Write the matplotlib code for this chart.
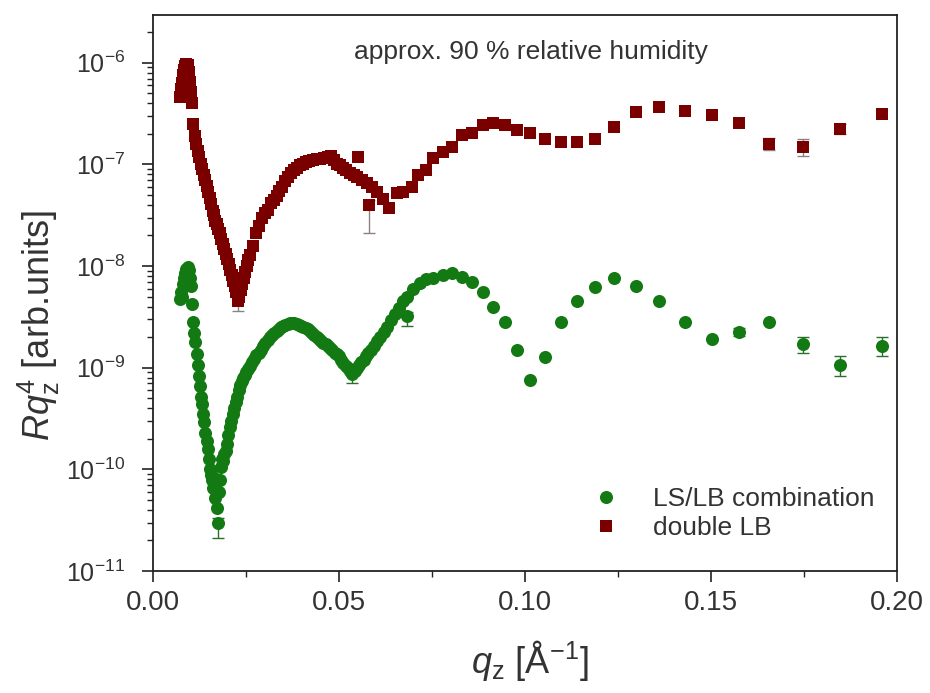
import numpy as np
import matplotlib
matplotlib.use("Agg")
import matplotlib.pyplot as plt
from matplotlib.ticker import LogLocator, MultipleLocator, NullFormatter

# ---- data: Rq^4 vs q_z ----
q_green = [
    0.0072, 0.0075, 0.0078, 0.0081, 0.0084, 0.0087, 0.0090, 0.0093, 0.0096, 0.0099,
    0.0102, 0.0105, 0.0108, 0.0111, 0.0114, 0.0117, 0.0120, 0.0123, 0.0126, 0.0129,
    0.0132, 0.0135, 0.0138, 0.0141, 0.0144, 0.0147, 0.0150, 0.0153, 0.0156, 0.0159,
    0.0162, 0.0165, 0.0168, 0.0171, 0.0174, 0.0177, 0.0180, 0.0183, 0.0186, 0.0189,
    0.0192, 0.0195, 0.0198, 0.0202, 0.0206, 0.0210, 0.0214, 0.0218, 0.0222, 0.0226,
    0.0230, 0.0234, 0.0238, 0.0242, 0.0246, 0.0250, 0.0255, 0.0260, 0.0266, 0.0272,
    0.0278, 0.0284, 0.0290, 0.0296, 0.0302, 0.0308, 0.0314, 0.0320, 0.0326, 0.0332,
    0.0338, 0.0344, 0.0350, 0.0356, 0.0362, 0.0368, 0.0374, 0.0380, 0.0386, 0.0392,
    0.0398, 0.0404, 0.0410, 0.0416, 0.0422, 0.0428, 0.0434, 0.0440, 0.0446, 0.0452,
    0.0458, 0.0464, 0.0470, 0.0476, 0.0482, 0.0488, 0.0494, 0.0500, 0.0506, 0.0512,
    0.0518, 0.0524, 0.0530, 0.0536, 0.0542, 0.0548, 0.0554, 0.0560, 0.0566, 0.0572,
    0.0578, 0.0586, 0.0594, 0.0602, 0.0610, 0.0620, 0.0630, 0.0640, 0.0650, 0.0660,
    0.0672, 0.0683, 0.0684, 0.0700, 0.0718, 0.0735,
    0.0753, 0.0780, 0.0804, 0.0831, 0.0858, 0.0887, 0.0914, 0.0946, 0.0978, 0.1013,
    0.1054, 0.1097, 0.1140, 0.1188, 0.1239, 0.1298, 0.1360, 0.1430, 0.1503, 0.1575,
    0.1656, 0.1747, 0.1847, 0.1960,
]
R_green = [
    4.7e-9, 5.6e-9, 5.0e-9, 6.6e-9, 7.6e-9, 8.6e-9, 9.4e-9, 9.8e-9, 9.2e-9, 7.6e-9,
    6.3e-9, 4.2e-9, 2.8e-9, 2.2e-9, 1.78e-9, 1.35e-9, 1.07e-9, 8.3e-10, 6.6e-10, 5.2e-10,
    4.4e-10, 3.5e-10, 2.9e-10, 2.3e-10, 1.9e-10, 1.58e-10, 1.26e-10, 1.0e-10, 8.7e-11, 7.9e-11,
    6.6e-11, 8.3e-11, 5.2e-11, 4.2e-11, 3.0e-11, 6.0e-11, 7.9e-11, 1.05e-10, 1.26e-10, 1.2e-10,
    1.41e-10, 1.5e-10, 1.78e-10, 2.2e-10, 2.6e-10, 3.0e-10, 3.5e-10, 4.0e-10, 4.6e-10, 5.2e-10,
    6.0e-10, 6.8e-10, 7.4e-10, 7.9e-10, 8.5e-10, 9.1e-10, 9.8e-10, 1.05e-9, 1.15e-9, 1.23e-9,
    1.32e-9, 1.41e-9, 1.51e-9, 1.62e-9, 1.74e-9, 1.86e-9, 2.0e-9, 2.09e-9, 2.19e-9, 2.29e-9,
    2.4e-9, 2.51e-9, 2.57e-9, 2.63e-9, 2.69e-9, 2.75e-9, 2.75e-9, 2.75e-9, 2.69e-9, 2.63e-9,
    2.57e-9, 2.51e-9, 2.45e-9, 2.4e-9, 2.29e-9, 2.19e-9, 2.09e-9, 2.0e-9, 1.9e-9, 1.82e-9,
    1.74e-9, 1.7e-9, 1.62e-9, 1.58e-9, 1.51e-9, 1.41e-9, 1.35e-9, 1.29e-9, 1.2e-9, 1.12e-9,
    1.05e-9, 1.0e-9, 9.3e-10, 8.7e-10, 9.3e-10, 1.0e-9, 1.07e-9, 1.15e-9, 1.2e-9, 1.29e-9,
    1.38e-9, 1.48e-9, 1.62e-9, 1.82e-9, 2.0e-9, 2.24e-9, 2.51e-9, 2.95e-9, 3.4e-9, 3.9e-9,
    4.5e-9, 5.0e-9, 3.2e-9, 5.9e-9, 6.8e-9, 7.4e-9,
    7.6e-9, 8.1e-9, 8.5e-9, 7.8e-9, 6.9e-9, 5.5e-9, 4.0e-9, 2.8e-9, 1.5e-9, 7.6e-10,
    1.28e-9, 2.8e-9, 4.5e-9, 6.2e-9, 7.7e-9, 6.4e-9, 4.5e-9, 2.8e-9, 1.9e-9, 2.25e-9,
    2.8e-9, 1.7e-9, 1.07e-9, 1.64e-9,
]
# error bars (only where visible): q position, lower and upper error
err_q_green = [0.0174, 0.0536, 0.0684, 0.1575, 0.1747, 0.1847, 0.1960]
err_lo_green = [0.9e-11, 1.6e-10, 0.6e-9, 0.2e-9, 0.3e-9, 0.24e-9, 0.35e-9]
err_hi_green = [0.3e-11, 0.5e-10, 0.3e-9, 0.2e-9, 0.3e-9, 0.24e-9, 0.35e-9]

q_red = [
    0.0072, 0.0075, 0.0078, 0.0081, 0.0084, 0.0087, 0.0090, 0.0093, 0.0096, 0.0099,
    0.0101, 0.0104, 0.0108, 0.0112, 0.0116, 0.0120, 0.0124, 0.0128, 0.0132, 0.0136,
    0.0140, 0.0144, 0.0148, 0.0152, 0.0156, 0.0160, 0.0164, 0.0168, 0.0172, 0.0176,
    0.0180, 0.0184, 0.0188, 0.0192, 0.0196, 0.0200, 0.0204, 0.0208, 0.0212, 0.0216,
    0.0220, 0.0224, 0.0228, 0.0232, 0.0236, 0.0240, 0.0244, 0.0248, 0.0252, 0.0256,
    0.0260, 0.0268, 0.0276, 0.0284, 0.0292, 0.0300, 0.0308, 0.0316, 0.0324, 0.0332,
    0.0340, 0.0348, 0.0356, 0.0364, 0.0372, 0.0380, 0.0388, 0.0396, 0.0404, 0.0412,
    0.0420, 0.0430, 0.0440, 0.0450, 0.0460, 0.0470, 0.0478, 0.0486, 0.0495, 0.0503,
    0.0511, 0.0520, 0.0530, 0.0539, 0.0548, 0.0551, 0.0561, 0.0575, 0.0580, 0.0589,
    0.0602, 0.0618, 0.0635, 0.0656, 0.0672, 0.0696, 0.0712, 0.0734,
    0.0753, 0.0780, 0.0804, 0.0831, 0.0858, 0.0887, 0.0914, 0.0946, 0.0978, 0.1013,
    0.1054, 0.1097, 0.1140, 0.1188, 0.1239, 0.1298, 0.1360, 0.1430, 0.1503, 0.1575,
    0.1656, 0.1747, 0.1847, 0.1960,
]
R_red = [
    4.6e-7, 5.5e-7, 6.3e-7, 7.5e-7, 8.5e-7, 9.3e-7, 9.8e-7, 9.6e-7, 8.2e-7, 6.4e-7,
    5.2e-7, 4.0e-7, 2.5e-7, 1.9e-7, 1.58e-7, 1.35e-7, 1.17e-7, 1.02e-7, 9.1e-8, 7.9e-8,
    7.1e-8, 6.2e-8, 5.4e-8, 4.7e-8, 4.1e-8, 3.5e-8, 3.2e-8, 2.8e-8, 2.6e-8, 2.3e-8,
    2.1e-8, 1.86e-8, 1.66e-8, 1.48e-8, 1.32e-8, 1.17e-8, 1.05e-8, 9.1e-9, 8.1e-9, 7.2e-9,
    6.3e-9, 5.5e-9, 4.5e-9, 5.0e-9, 5.8e-9, 6.6e-9, 7.6e-9, 8.7e-9, 1.0e-8, 1.15e-8,
    1.29e-8, 1.58e-8, 2.1e-8, 2.5e-8, 2.95e-8, 3.3e-8, 3.6e-8, 4.2e-8, 4.5e-8, 4.9e-8,
    5.5e-8, 6.0e-8, 6.8e-8, 7.6e-8, 8.3e-8, 8.9e-8, 9.3e-8, 9.8e-8, 1.02e-7, 1.05e-7,
    1.07e-7, 1.1e-7, 1.12e-7, 1.12e-7, 1.15e-7, 1.17e-7, 1.2e-7, 1.1e-7, 1.02e-7, 9.8e-8,
    9.3e-8, 8.8e-8, 8.3e-8, 7.9e-8, 7.6e-8, 1.17e-7, 7.1e-8, 6.6e-8, 4.0e-8, 6.0e-8,
    5.4e-8, 4.6e-8, 3.7e-8, 5.2e-8, 5.4e-8, 6.0e-8, 7.9e-8, 8.9e-8,
    1.15e-7, 1.33e-7, 1.49e-7, 1.95e-7, 2.05e-7, 2.45e-7, 2.56e-7, 2.45e-7, 2.19e-7, 2.05e-7,
    1.79e-7, 1.67e-7, 1.67e-7, 1.79e-7, 2.34e-7, 3.30e-7, 3.69e-7, 3.37e-7, 3.08e-7, 2.56e-7,
    1.6e-7, 1.49e-7, 2.24e-7, 3.15e-7,
]
err_q_red = [0.0228, 0.0580, 0.1656, 0.1747, 0.1847]
err_lo_red = [0.9e-9, 1.9e-8, 2.2e-8, 2.7e-8, 2.5e-8]
err_hi_red = [0.3e-9, 0.5e-8, 2.2e-8, 3.0e-8, 2.5e-8]

labels = ["LS/LB combination", "double LB"]
note = "approx. 90 % relative humidity"

# ---- styling ----
plt.rcParams["font.family"] = ["Liberation Sans", "DejaVu Sans"]
plt.rcParams["mathtext.fontset"] = "custom"
plt.rcParams["mathtext.rm"] = "Liberation Sans"
plt.rcParams["mathtext.it"] = "Liberation Sans:italic"
plt.rcParams["mathtext.bf"] = "Liberation Sans:bold"

green = "#137a13"
dred = "#7a0000"

fig = plt.figure(figsize=(9.3, 6.93), dpi=100)
ax = fig.add_axes([153 / 930, 1 - 571 / 693, 744 / 930, 556 / 693])


def pick(qs, vals, sel):
    idx = [qs.index(v) for v in sel]
    return [vals[i] for i in idx]


# error bars underneath the markers
ax.errorbar(err_q_green, pick(q_green, R_green, err_q_green),
            yerr=[err_lo_green, err_hi_green], fmt="none", ecolor="#2c6e2c",
            elinewidth=1.0, capsize=4, capthick=1.0, zorder=1)
ax.errorbar(err_q_red, pick(q_red, R_red, err_q_red),
            yerr=[err_lo_red, err_hi_red], fmt="none", ecolor="#8c8080",
            elinewidth=1.0, capsize=4, capthick=1.0, zorder=1)

ax.plot(q_green, R_green, linestyle="none", marker="o", ms=9.4, mew=0,
        color=green, label=labels[0], zorder=3)
ax.plot(q_red, R_red, linestyle="none", marker="s", ms=8.5, mew=0,
        color=dred, label=labels[1], zorder=3)

ax.set_yscale("log")
ax.set_xlim(0.0, 0.20)
ax.set_ylim(1e-11, 2.95e-6)

ax.xaxis.set_major_locator(MultipleLocator(0.05))
ax.xaxis.set_minor_locator(MultipleLocator(0.025))
ax.xaxis.set_major_formatter(matplotlib.ticker.FormatStrFormatter("%.2f"))
ax.yaxis.set_major_locator(LogLocator(base=10, numticks=20))
ax.yaxis.set_minor_locator(LogLocator(base=10, subs=np.arange(2, 10), numticks=20))
ax.yaxis.set_minor_formatter(NullFormatter())

for s in ax.spines.values():
    s.set_linewidth(1.3)
    s.set_color("#222222")

ax.tick_params(axis="both", which="major", direction="out", length=8, width=1.2,
               top=False, right=False, colors="#222222")
ax.tick_params(axis="both", which="minor", direction="out", length=4.5, width=1.0,
               top=False, right=False, colors="#222222")
ax.tick_params(axis="x", which="major", labelsize=20, pad=6, labelcolor="#333333")
ax.tick_params(axis="y", which="major", labelsize=18, pad=12, labelcolor="#333333")

ax.set_xlabel(r"$q_\mathrm{z}$ [Å$^{\mathrm{-1}}$]", fontsize=26, color="#333333")
ax.xaxis.set_label_coords(0.507, -0.12)
ax.set_ylabel(r"$Rq_\mathrm{z}^{\mathrm{4}}$ [arb.units]", fontsize=26, color="#333333")
ax.yaxis.set_label_coords(-0.122, 0.442)

ax.text(0.508, 0.921, note, transform=ax.transAxes, ha="center", va="baseline",
        fontsize=19, color="#333333")

leg = ax.legend(loc="center left", bbox_to_anchor=(0.555, 0.103), frameon=False,
                fontsize=19, borderpad=0, labelspacing=0.2, handlelength=2.0,
                handletextpad=0.8, numpoints=1)
for t in leg.get_texts():
    t.set_color("#333333")

fig.savefig("out.png", dpi=100)
